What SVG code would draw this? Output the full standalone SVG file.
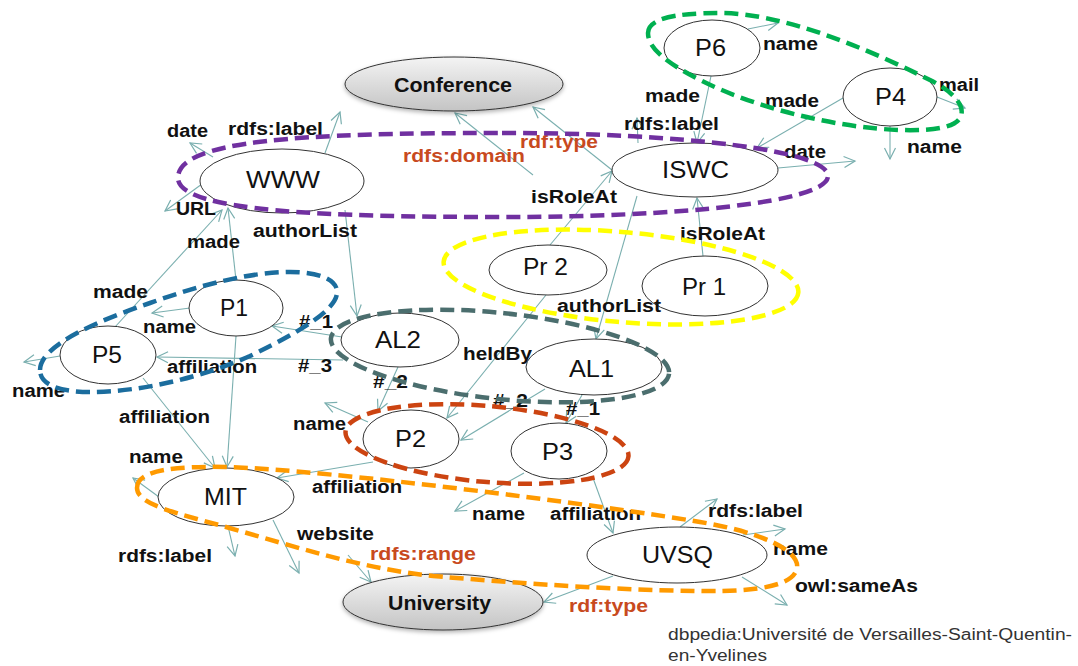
<svg xmlns="http://www.w3.org/2000/svg" width="1078" height="666" viewBox="0 0 1078 666">
<defs>
<style>
.n{fill:#fff;stroke:#333;stroke-width:1}
.g{fill:url(#gr);stroke:#333;stroke-width:1;filter:url(#sh)}
.e{fill:none;stroke:#7AAFAF;stroke-width:1.1;marker-end:url(#ar)}
.nt{font-family:"Liberation Sans",Arial,sans-serif;font-size:24px;fill:#111}
.bt{font-family:"Liberation Sans",Arial,sans-serif;font-size:20px;font-weight:bold;fill:#111}
.l{font-family:"Liberation Sans",Arial,sans-serif;font-size:18px;font-weight:bold;fill:#111}
.r{font-family:"Liberation Sans",Arial,sans-serif;font-size:18px;font-weight:bold;fill:#C84A1E}
.f{font-family:"Liberation Sans",Arial,sans-serif;font-size:16px;fill:#333}
.grp{fill:none;stroke-width:4.5;stroke-dasharray:14 7}
</style>
<linearGradient id="gr" x1="0" y1="0" x2="0" y2="1">
<stop offset="0" stop-color="#F4F4F4"/>
<stop offset="1" stop-color="#C4C4C4"/>
</linearGradient>
<filter id="sh" x="-20%" y="-30%" width="140%" height="170%">
<feDropShadow dx="0" dy="2" stdDeviation="2" flood-color="#000" flood-opacity="0.3"/>
</filter>
<marker id="ar" markerWidth="14" markerHeight="14" refX="12" refY="7" orient="auto" markerUnits="userSpaceOnUse">
<path d="M1,1.5 L12,7 L1,12.5" fill="none" stroke="#7AAFAF" stroke-width="1.2"/>
</marker>
</defs>

<g id="connectors">
<line class="e" x1="533" y1="175" x2="455" y2="113"/>
<line class="e" x1="612" y1="170" x2="533" y2="107"/>
<line class="e" x1="325" y1="153" x2="340" y2="112"/>
<line class="e" x1="213" y1="157" x2="190" y2="143"/>
<line class="e" x1="202" y1="184" x2="165" y2="211"/>
<line class="e" x1="236" y1="280" x2="228" y2="208"/>
<line class="e" x1="115" y1="327" x2="222" y2="210"/>
<line class="e" x1="345" y1="210" x2="357" y2="316"/>
<line class="e" x1="342" y1="337" x2="272" y2="326"/>
<line class="e" x1="343" y1="360" x2="157" y2="357"/>
<line class="e" x1="190" y1="308" x2="152" y2="313"/>
<line class="e" x1="60" y1="356" x2="24" y2="362"/>
<line class="e" x1="143" y1="378" x2="215" y2="468"/>
<line class="e" x1="236" y1="336" x2="227" y2="467"/>
<line class="e" x1="159" y1="497" x2="133" y2="478"/>
<line class="e" x1="228" y1="526" x2="235" y2="556"/>
<line class="e" x1="273" y1="520" x2="299" y2="573"/>
<line class="e" x1="348" y1="555" x2="371" y2="582"/>
<line class="e" x1="373" y1="462" x2="277" y2="478"/>
<line class="e" x1="368" y1="422" x2="325" y2="403"/>
<line class="e" x1="398" y1="367" x2="378" y2="411"/>
<line class="e" x1="546" y1="295" x2="447" y2="418"/>
<line class="e" x1="545" y1="389" x2="461" y2="440"/>
<line class="e" x1="582" y1="395" x2="566" y2="423"/>
<line class="e" x1="637" y1="196" x2="596" y2="339"/>
<line class="e" x1="550" y1="245" x2="612" y2="171"/>
<line class="e" x1="703" y1="256" x2="697" y2="198"/>
<line class="e" x1="638" y1="143" x2="637" y2="118"/>
<line class="e" x1="711" y1="76" x2="697" y2="143"/>
<line class="e" x1="843" y1="98" x2="757" y2="148"/>
<line class="e" x1="778" y1="168" x2="855" y2="161"/>
<line class="e" x1="748" y1="29" x2="778" y2="23"/>
<line class="e" x1="937" y1="97" x2="965" y2="108"/>
<line class="e" x1="890" y1="126" x2="890" y2="159"/>
<line class="e" x1="524" y1="473" x2="455" y2="511"/>
<line class="e" x1="593" y1="478" x2="613" y2="533"/>
<line class="e" x1="613" y1="576" x2="544" y2="602"/>
<line class="e" x1="680" y1="527" x2="717" y2="499"/>
<line class="e" x1="743" y1="535" x2="785" y2="529"/>
<line class="e" x1="742" y1="577" x2="787" y2="605"/>
</g>

<g id="node-conference"><ellipse class="g" cx="454" cy="84" rx="109" ry="27"/><text class="bt" x="394" y="92" textLength="118" lengthAdjust="spacingAndGlyphs">Conference</text></g>
<g id="node-www"><ellipse class="n" cx="282" cy="181" rx="82" ry="32"/><text class="nt" x="246" y="188" textLength="74" lengthAdjust="spacingAndGlyphs">WWW</text></g>
<g id="node-iswc"><ellipse class="n" cx="695" cy="170" rx="83" ry="27"/><text class="nt" x="662" y="178" textLength="67" lengthAdjust="spacingAndGlyphs">ISWC</text></g>
<g id="node-p6"><ellipse class="n" cx="712" cy="48" rx="48" ry="28"/><text class="nt" x="695" y="56" textLength="31" lengthAdjust="spacingAndGlyphs">P6</text></g>
<g id="node-p4"><ellipse class="n" cx="890" cy="97" rx="47" ry="29"/><text class="nt" x="875" y="105" textLength="31" lengthAdjust="spacingAndGlyphs">P4</text></g>
<g id="node-pr2"><ellipse class="n" cx="548" cy="270" rx="59" ry="25"/><text class="nt" x="523" y="275" textLength="45" lengthAdjust="spacingAndGlyphs">Pr 2</text></g>
<g id="node-pr1"><ellipse class="n" cx="705" cy="286" rx="63" ry="30"/><text class="nt" x="682" y="295" textLength="44" lengthAdjust="spacingAndGlyphs">Pr 1</text></g>
<g id="node-p1"><ellipse class="n" cx="236" cy="308" rx="47" ry="28"/><text class="nt" x="220" y="316" textLength="28" lengthAdjust="spacingAndGlyphs">P1</text></g>
<g id="node-p5"><ellipse class="n" cx="108" cy="355" rx="48" ry="29"/><text class="nt" x="92" y="363" textLength="30" lengthAdjust="spacingAndGlyphs">P5</text></g>
<g id="node-al2"><ellipse class="n" cx="400" cy="340" rx="59" ry="27"/><text class="nt" x="375" y="348" textLength="46" lengthAdjust="spacingAndGlyphs">AL2</text></g>
<g id="node-al1"><ellipse class="n" cx="594" cy="367" rx="68" ry="28"/><text class="nt" x="569" y="377" textLength="45" lengthAdjust="spacingAndGlyphs">AL1</text></g>
<g id="node-p2"><ellipse class="n" cx="411" cy="439" rx="48" ry="29"/><text class="nt" x="395" y="447" textLength="31" lengthAdjust="spacingAndGlyphs">P2</text></g>
<g id="node-p3"><ellipse class="n" cx="559" cy="451" rx="48" ry="28"/><text class="nt" x="542" y="460" textLength="31" lengthAdjust="spacingAndGlyphs">P3</text></g>
<g id="node-mit"><ellipse class="n" cx="226" cy="497" rx="68" ry="29"/><text class="nt" x="204" y="505" textLength="43" lengthAdjust="spacingAndGlyphs">MIT</text></g>
<g id="node-uvsq"><ellipse class="n" cx="677" cy="555" rx="90" ry="28"/><text class="nt" x="642" y="563" textLength="71" lengthAdjust="spacingAndGlyphs">UVSQ</text></g>
<g id="node-university"><ellipse class="g" cx="443" cy="602" rx="100" ry="28"/><text class="bt" x="388" y="610" textLength="103" lengthAdjust="spacingAndGlyphs">University</text></g>

<g id="edge-labels">
<text class="l" x="167" y="137" textLength="41" lengthAdjust="spacingAndGlyphs">date</text>
<text class="l" x="228" y="135" textLength="95" lengthAdjust="spacingAndGlyphs">rdfs:label</text>
<text class="l" x="176" y="215" textLength="40" lengthAdjust="spacingAndGlyphs">URL</text>
<text class="l" x="187" y="248" textLength="53" lengthAdjust="spacingAndGlyphs">made</text>
<text class="l" x="253" y="237" textLength="104" lengthAdjust="spacingAndGlyphs">authorList</text>
<text class="l" x="93" y="298" textLength="55" lengthAdjust="spacingAndGlyphs">made</text>
<text class="l" x="143" y="333" textLength="53" lengthAdjust="spacingAndGlyphs">name</text>
<text class="l" x="299" y="328" textLength="34" lengthAdjust="spacingAndGlyphs">#_1</text>
<text class="l" x="167" y="373" textLength="90" lengthAdjust="spacingAndGlyphs">affiliation</text>
<text class="l" x="298" y="372" textLength="34" lengthAdjust="spacingAndGlyphs">#_3</text>
<text class="l" x="12" y="397" textLength="53" lengthAdjust="spacingAndGlyphs">name</text>
<text class="l" x="119" y="423" textLength="91" lengthAdjust="spacingAndGlyphs">affiliation</text>
<text class="l" x="293" y="430" textLength="53" lengthAdjust="spacingAndGlyphs">name</text>
<text class="l" x="463" y="360" textLength="69" lengthAdjust="spacingAndGlyphs">heldBy</text>
<text class="l" x="373" y="388" textLength="35" lengthAdjust="spacingAndGlyphs">#_2</text>
<text class="l" x="493" y="407" textLength="35" lengthAdjust="spacingAndGlyphs">#_2</text>
<text class="l" x="566" y="415" textLength="34" lengthAdjust="spacingAndGlyphs">#_1</text>
<text class="l" x="557" y="312" textLength="104" lengthAdjust="spacingAndGlyphs">authorList</text>
<text class="l" x="531" y="203" textLength="86" lengthAdjust="spacingAndGlyphs">isRoleAt</text>
<text class="l" x="680" y="240" textLength="85" lengthAdjust="spacingAndGlyphs">isRoleAt</text>
<text class="l" x="624" y="130" textLength="95" lengthAdjust="spacingAndGlyphs">rdfs:label</text>
<text class="l" x="645" y="102" textLength="55" lengthAdjust="spacingAndGlyphs">made</text>
<text class="l" x="765" y="107" textLength="54" lengthAdjust="spacingAndGlyphs">made</text>
<text class="l" x="763" y="50" textLength="55" lengthAdjust="spacingAndGlyphs">name</text>
<text class="l" x="939" y="91" textLength="40" lengthAdjust="spacingAndGlyphs">mail</text>
<text class="l" x="784" y="158" textLength="42" lengthAdjust="spacingAndGlyphs">date</text>
<text class="l" x="907" y="153" textLength="55" lengthAdjust="spacingAndGlyphs">name</text>
<text class="l" x="129" y="463" textLength="54" lengthAdjust="spacingAndGlyphs">name</text>
<text class="l" x="312" y="493" textLength="90" lengthAdjust="spacingAndGlyphs">affiliation</text>
<text class="l" x="297" y="540" textLength="77" lengthAdjust="spacingAndGlyphs">website</text>
<text class="l" x="118" y="562" textLength="94" lengthAdjust="spacingAndGlyphs">rdfs:label</text>
<text class="l" x="472" y="520" textLength="53" lengthAdjust="spacingAndGlyphs">name</text>
<text class="l" x="550" y="520" textLength="91" lengthAdjust="spacingAndGlyphs">affiliation</text>
<text class="l" x="708" y="517" textLength="95" lengthAdjust="spacingAndGlyphs">rdfs:label</text>
<text class="l" x="773" y="555" textLength="55" lengthAdjust="spacingAndGlyphs">name</text>
<text class="l" x="795" y="592" textLength="123" lengthAdjust="spacingAndGlyphs">owl:sameAs</text>
<text class="r" x="403" y="162" textLength="122" lengthAdjust="spacingAndGlyphs">rdfs:domain</text>
<text class="r" x="520" y="148" textLength="78" lengthAdjust="spacingAndGlyphs">rdf:type</text>
<text class="r" x="370" y="560" textLength="106" lengthAdjust="spacingAndGlyphs">rdfs:range</text>
<text class="r" x="569" y="612" textLength="79" lengthAdjust="spacingAndGlyphs">rdf:type</text>
</g>

<g id="groups">
<path class="grp" stroke="#00B050" d="M648,33 C648,20 670,13 720,13 C780,13 860,45 930,80 C960,95 965,110 960,118 C955,127 935,131 900,130 C840,128 760,110 700,80 C665,62 648,48 648,33 Z"/>
<path class="grp" stroke="#7030A0" d="M502,133 C680,133 828,150 828,176 C828,202 680,217 502,217 C330,217 178,212 178,178 C178,140 300,133 502,133 Z"/>
<ellipse class="grp" stroke="#FFFF00" cx="621" cy="277" rx="178" ry="45" transform="rotate(5 621 277)"/>
<path class="grp" stroke="#1B6D9E" d="M40,370 C40,345 100,320 150,303 C200,285 250,272 290,272 C320,272 338,280 337,293 C336,310 300,332 250,356 C200,378 140,392 90,392 C60,392 40,385 40,370 Z"/>
<ellipse class="grp" stroke="#4B6E6E" cx="500" cy="356" rx="170" ry="43" transform="rotate(6 500 356)"/>
<ellipse class="grp" stroke="#CC4411" cx="487" cy="444" rx="142" ry="38" transform="rotate(5 487 444)"/>
<path class="grp" stroke="#FF9A00" d="M137,488 C137,470 175,466 226,467 C330,470 600,505 700,522 C760,532 800,550 797,568 C794,585 760,592 700,591 C600,590 480,580 433,576 C360,568 300,548 226,527 C180,514 137,505 137,488 Z"/>
</g>

<g id="footer">
<text class="f" x="668" y="640" textLength="404" lengthAdjust="spacingAndGlyphs">dbpedia:Université de Versailles-Saint-Quentin-</text>
<text class="f" x="668" y="661" textLength="99" lengthAdjust="spacingAndGlyphs">en-Yvelines</text>
</g>
</svg>
